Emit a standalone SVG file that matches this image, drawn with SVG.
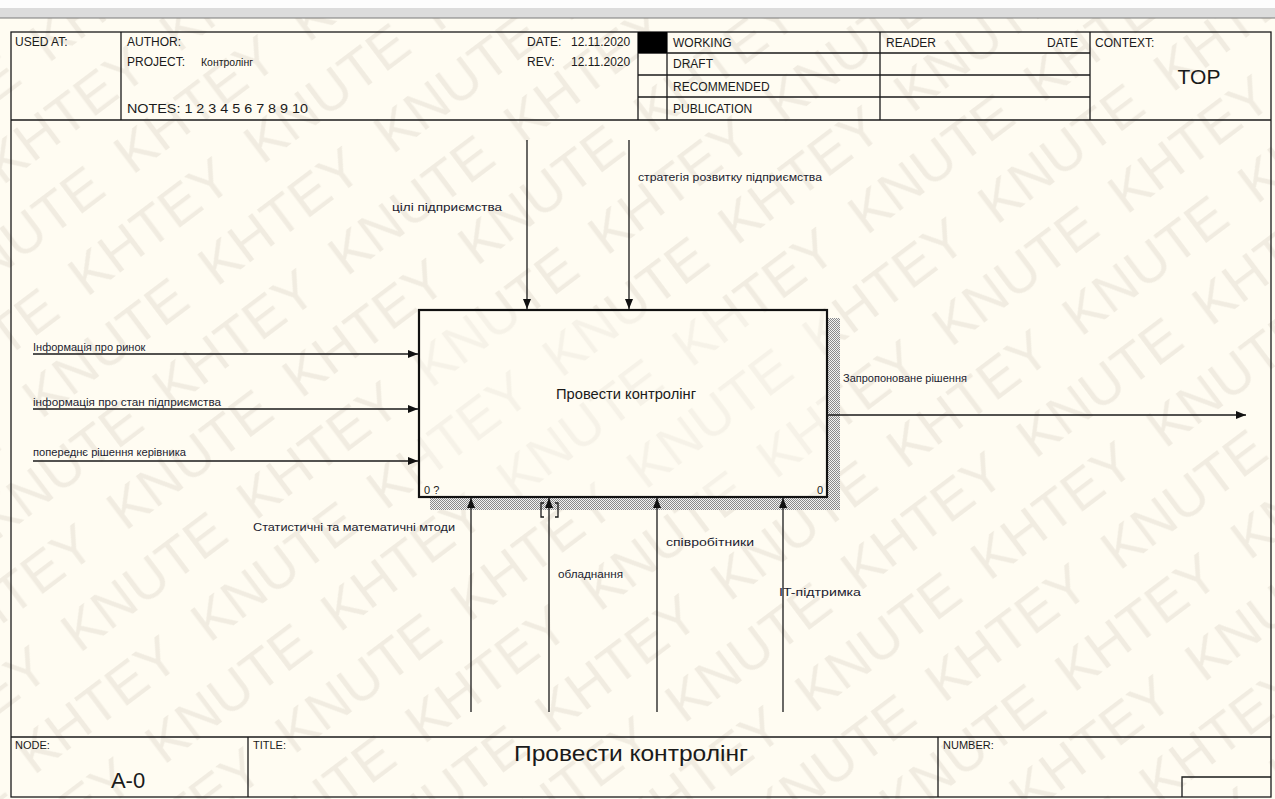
<svg xmlns="http://www.w3.org/2000/svg" width="1275" height="799" viewBox="0 0 1275 799">
<defs>
<style>
.t{font-family:"Liberation Sans",Arial,sans-serif;fill:#1a1a1a}
.h{font-size:12px}
.l{font-size:11px;fill:#1c1c30}
.ln{stroke:#1a1a1a;stroke-width:1.3;fill:none}
.ar{stroke:#1a1a1a;stroke-width:1.3;fill:none;marker-end:url(#ah)}
.wm{font-family:"Liberation Sans",Arial,sans-serif;font-size:56px;fill:#5a4a30;fill-opacity:0.085}
</style>
<marker id="ah" viewBox="0 0 10 8" refX="10" refY="4" markerWidth="10" markerHeight="8" markerUnits="userSpaceOnUse" orient="auto">
<path d="M0,0 L10,4 L0,8 z" fill="#111"/>
</marker>
<pattern id="hatch" width="2" height="2" patternUnits="userSpaceOnUse">
<rect width="2" height="2" fill="#f2f2f2"/>
<rect width="1" height="1" fill="#8a8a8a"/>
<rect x="1" y="1" width="1" height="1" fill="#8a8a8a"/>
</pattern>
<pattern id="wmp" width="440" height="140" patternUnits="userSpaceOnUse" patternTransform="rotate(-37) translate(0,20)">
<text class="wm" x="0" y="60">KHTEY</text>
<text class="wm" x="220" y="60">KNUTE</text>
<text class="wm" x="110" y="130">KNUTE</text>
<text class="wm" x="330" y="130">KHTEY</text>
<text class="wm" x="-110" y="130">KHTEY</text>
</pattern>
</defs>

<rect width="1275" height="799" fill="#fdfdfd"/>
<rect x="0" y="8" width="1275" height="10" fill="#dcdcdc"/>
<rect x="0" y="18" width="1275" height="781" fill="#fffcf2"/>
<line x1="0" y1="18" x2="1275" y2="18" stroke="#7a7a7a" stroke-width="1"/>
<rect x="0" y="18" width="1275" height="781" fill="url(#wmp)"/>

<g id="frame">
<rect x="11" y="32" width="1260" height="765" class="ln"/>
<line x1="11" y1="120" x2="1271" y2="120" class="ln"/>
<line x1="121" y1="32" x2="121" y2="120" class="ln"/>
<line x1="638" y1="32" x2="638" y2="120" class="ln"/>
<line x1="667" y1="32" x2="667" y2="120" class="ln"/>
<line x1="880" y1="32" x2="880" y2="120" class="ln"/>
<line x1="1090" y1="32" x2="1090" y2="120" class="ln"/>
<line x1="638" y1="53" x2="1090" y2="53" class="ln"/>
<line x1="638" y1="75" x2="1090" y2="75" class="ln"/>
<line x1="638" y1="97" x2="1090" y2="97" class="ln"/>
<rect x="638" y="32" width="29" height="21" fill="#000"/>
<text class="t h" x="15" y="46">USED AT:</text>
<text class="t h" x="127" y="46">AUTHOR:</text>
<text class="t h" x="127" y="66">PROJECT:</text>
<text class="t" x="201" y="66" font-size="11" textLength="52" lengthAdjust="spacingAndGlyphs">Контролінг</text>
<text class="t h" x="127" y="113" textLength="181" lengthAdjust="spacingAndGlyphs">NOTES:  1  2  3  4  5  6  7  8  9  10</text>
<text class="t h" x="527" y="46">DATE:</text>
<text class="t h" x="571" y="46">12.11.2020</text>
<text class="t h" x="527" y="66">REV:</text>
<text class="t h" x="571" y="66">12.11.2020</text>
<text class="t h" x="673" y="47">WORKING</text>
<text class="t h" x="673" y="68">DRAFT</text>
<text class="t h" x="673" y="91">RECOMMENDED</text>
<text class="t h" x="673" y="113">PUBLICATION</text>
<text class="t h" x="886" y="47">READER</text>
<text class="t h" x="1047" y="47">DATE</text>
<text class="t h" x="1095" y="47">CONTEXT:</text>
<text class="t" x="1199" y="84" font-size="21" text-anchor="middle">TOP</text>

<line x1="11" y1="737" x2="1271" y2="737" class="ln"/>
<line x1="248" y1="737" x2="248" y2="797" class="ln"/>
<line x1="938" y1="737" x2="938" y2="797" class="ln"/>
<polyline points="1182,797 1182,777 1271,777" class="ln"/>
<text class="t" x="15" y="749" font-size="11">NODE:</text>
<text class="t" x="128" y="788" font-size="22" text-anchor="middle">A-0</text>
<text class="t" x="253" y="749" font-size="11">TITLE:</text>
<text class="t" x="514" y="761" font-size="22" textLength="234" lengthAdjust="spacingAndGlyphs">Провести контролінг</text>
<text class="t" x="943" y="749" font-size="11">NUMBER:</text>
</g>

<g id="activity">
<rect x="827" y="318" width="13" height="192" fill="url(#hatch)"/>
<rect x="430" y="497" width="410" height="13" fill="url(#hatch)"/>
<rect x="419" y="310" width="408" height="187" fill="#fffcf2" fill-opacity="0.4" stroke="#111" stroke-width="2.2"/>
<text class="t" x="556" y="399" font-size="14" textLength="140" lengthAdjust="spacingAndGlyphs" fill="#222236">Провести контролінг</text>
<text class="t" x="424" y="494" font-size="11">0 ?</text>
<text class="t" x="817" y="494" font-size="11">0</text>
</g>

<g id="connectors">
<line x1="527" y1="140" x2="527" y2="309" class="ar"/>
<line x1="629" y1="140" x2="629" y2="309" class="ar"/>
<line x1="33" y1="354" x2="418" y2="354" class="ar"/>
<line x1="33" y1="409" x2="418" y2="409" class="ar"/>
<line x1="33" y1="461" x2="418" y2="461" class="ar"/>
<line x1="827" y1="415" x2="1246" y2="415" class="ar"/>
<line x1="471" y1="712" x2="471" y2="498" class="ar"/>
<line x1="549" y1="712" x2="549" y2="498" class="ar"/>
<line x1="657" y1="712" x2="657" y2="498" class="ar"/>
<line x1="783" y1="712" x2="783" y2="498" class="ar"/>
<path d="M544,503 H541 V517 H544 M555,503 H558 V517 H555" class="ln" stroke-width="1"/>
<text class="t l" x="392" y="211" textLength="110" lengthAdjust="spacingAndGlyphs">цілі підприємства</text>
<text class="t l" x="638" y="181" textLength="184" lengthAdjust="spacingAndGlyphs">стратегія розвитку підприємства</text>
<text class="t l" x="33" y="351">Інформація про ринок</text>
<text class="t l" x="33" y="406" textLength="188" lengthAdjust="spacingAndGlyphs">інформація про стан підприємства</text>
<text class="t l" x="33" y="456" textLength="153" lengthAdjust="spacingAndGlyphs">попереднє рішення керівника</text>
<text class="t l" x="843" y="382">Запропоноване рішення</text>
<text class="t l" x="253" y="531" textLength="202" lengthAdjust="spacingAndGlyphs">Статистичні та математичні мтоди</text>
<text class="t l" x="558" y="578" textLength="65" lengthAdjust="spacingAndGlyphs">обладнання</text>
<text class="t l" x="666" y="546" textLength="88" lengthAdjust="spacingAndGlyphs">співробітники</text>
<text class="t l" x="779" y="596" textLength="82" lengthAdjust="spacingAndGlyphs">IT-підтримка</text>
</g>
</svg>
